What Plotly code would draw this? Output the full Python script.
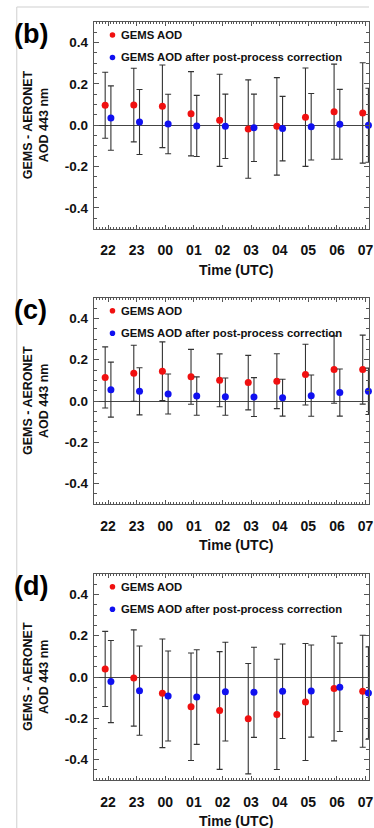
import plotly.graph_objects as go

# ---------------- data ----------------
hours = ["22", "23", "00", "01", "02", "03", "04", "05", "06", "07"]
y_tick_vals = [-0.4, -0.2, 0.0, 0.2, 0.4]
y_tick_text = ["-0.4", "-0.2", "0.0", "0.2", "0.4"]
panel_labels = ["(b)", "(c)", "(d)"]
series_names = ["GEMS AOD", "GEMS AOD after post-process correction"]

b_gems = [0.097, 0.098, 0.092, 0.056, 0.024, -0.018, -0.005, 0.039, 0.066, 0.060]
b_gems_err = [0.160, 0.178, 0.200, 0.204, 0.223, 0.238, 0.236, 0.238, 0.230, 0.243]
b_corr = [0.035, 0.016, 0.006, -0.003, -0.005, -0.012, -0.016, -0.007, 0.005, 0.000]
b_corr_err = [0.156, 0.157, 0.144, 0.148, 0.156, 0.163, 0.156, 0.161, 0.169, 0.179]

c_gems = [0.114, 0.134, 0.144, 0.117, 0.100, 0.089, 0.096, 0.128, 0.152, 0.152]
c_gems_err = [0.148, 0.136, 0.142, 0.133, 0.128, 0.132, 0.133, 0.147, 0.163, 0.167]
c_corr = [0.055, 0.047, 0.034, 0.024, 0.021, 0.019, 0.016, 0.026, 0.041, 0.047]
c_corr_err = [0.133, 0.114, 0.097, 0.093, 0.090, 0.094, 0.089, 0.100, 0.114, 0.112]

d_gems = [0.039, -0.005, -0.079, -0.144, -0.162, -0.202, -0.181, -0.121, -0.056, -0.069]
d_gems_err = [0.182, 0.233, 0.263, 0.260, 0.285, 0.267, 0.267, 0.283, 0.253, 0.271]
d_corr = [-0.022, -0.066, -0.092, -0.097, -0.071, -0.074, -0.069, -0.068, -0.050, -0.078]
d_corr_err = [0.199, 0.216, 0.218, 0.229, 0.239, 0.218, 0.229, 0.223, 0.214, 0.223]

panels = [
    (b_gems, b_gems_err, b_corr, b_corr_err),
    (c_gems, c_gems_err, c_corr, c_corr_err),
    (d_gems, d_gems_err, d_corr, d_corr_err),
]

# ---------------- style / layout ----------------
W, H = 374, 828
RED = "#f01010"
BLUE = "#1010f0"
ERRC = "#333333"
AXC = "#555555"
FONT = "Liberation Sans"

def PX(x):
    return x / W

def PY(y):
    return 1 - y / H

tops = [22.0, 297.7, 573.7]
ph = 206.6
left = 95.0
offset = 0.1

fig = go.Figure()
shapes = []
annotations = []
idx = list(range(len(hours)))

for k, (g, ge, c, ce) in enumerate(panels):
    n = "" if k == 0 else str(k + 1)
    xa, ya = "x" + n, "y" + n
    fig.add_trace(go.Scatter(
        x=[i - offset for i in idx], y=g, mode="markers", xaxis=xa, yaxis=ya,
        marker=dict(color=RED, size=7),
        error_y=dict(type="data", array=ge, visible=True, color=ERRC, thickness=1.1, width=3),
        showlegend=False, cliponaxis=False))
    fig.add_trace(go.Scatter(
        x=[i + offset for i in idx], y=c, mode="markers", xaxis=xa, yaxis=ya,
        marker=dict(color=BLUE, size=7),
        error_y=dict(type="data", array=ce, visible=True, color=ERRC, thickness=1.1, width=3),
        showlegend=False, cliponaxis=False))

    top = tops[k]
    bot = top + ph
    fig.update_layout(**{
        "xaxis" + n: dict(
            domain=[PX(left), 1], range=[-0.5, 9.12], anchor=ya,
            tickmode="array", tickvals=idx, ticktext=hours,
            ticks="inside", ticklen=4, tickcolor=AXC, tickwidth=1,
            minor=dict(dtick=0.1, tick0=0, ticks="inside", ticklen=2, tickcolor=AXC),
            showline=True, linecolor=AXC, linewidth=1, mirror="allticks",
            showgrid=False, zeroline=False, ticklabeloverflow="allow",
            tickfont=dict(family=FONT, size=14, color="#111", weight="bold"),
            ticklabelstandoff=9),
        "yaxis" + n: dict(
            domain=[PY(bot), PY(top)], range=[-0.5, 0.5], anchor=xa,
            tickmode="array", tickvals=y_tick_vals, ticktext=y_tick_text,
            ticks="inside", ticklen=5, tickcolor=AXC, tickwidth=1,
            minor=dict(dtick=0.05, tick0=0, ticks="inside", ticklen=3, tickcolor=AXC),
            showline=True, linecolor=AXC, linewidth=1, mirror="allticks",
            showgrid=False, zeroline=True, zerolinecolor="#444444", zerolinewidth=1,
            tickfont=dict(family=FONT, size=13.5, color="#111", weight="bold"),
            ticklabelstandoff=2),
    })

    # panel label
    annotations.append(dict(
        x=PX(31), y=PY(top + 12), xref="paper", yref="paper",
        text="<b>" + panel_labels[k] + "</b>", showarrow=False,
        xanchor="center", yanchor="middle",
        font=dict(family=FONT, size=27, color="#000")))
    # y title
    annotations.append(dict(
        x=PX(36.5), y=PY(top + ph / 2), xref="paper", yref="paper",
        text="<b>GEMS - AERONET<br>AOD 443 nm</b>", showarrow=False, textangle=-90,
        xanchor="center", yanchor="middle",
        font=dict(family=FONT, size=12.5, color="#111")))
    # x title
    annotations.append(dict(
        x=PX(239), y=PY(bot + 41), xref="paper", yref="paper",
        text="<b>Time (UTC)</b>", showarrow=False,
        xanchor="center", yanchor="middle",
        font=dict(family=FONT, size=14, color="#111")))
    # legend
    for j, (col, name) in enumerate(zip([RED, BLUE], series_names)):
        cy = top + 13 + j * 22.5
        r = 2.8
        shapes.append(dict(type="circle", xref="paper", yref="paper",
                           x0=PX(114 - r), x1=PX(114 + r), y0=PY(cy + r), y1=PY(cy - r),
                           fillcolor=col, line=dict(width=0)))
        annotations.append(dict(
            x=PX(121), y=PY(cy), xref="paper", yref="paper",
            text="<b>" + name + "</b>", showarrow=False,
            xanchor="left", yanchor="middle",
            font=dict(family=FONT, size=11.3, color="#111")))

# outer frame (screenshot border)
shapes.append(dict(type="line", xref="paper", yref="paper",
                   x0=PX(17), x1=PX(17), y0=PY(7), y1=0, line=dict(color="#cfcfcf", width=1)))
shapes.append(dict(type="line", xref="paper", yref="paper",
                   x0=PX(17), x1=1, y0=PY(7), y1=PY(7), line=dict(color="#cfcfcf", width=1)))

fig.update_layout(
    width=W, height=H, margin=dict(l=0, r=0, t=0, b=0),
    paper_bgcolor="white", plot_bgcolor="white",
    shapes=shapes, annotations=annotations, showlegend=False,
)

fig.write_html(
    "out.html",
    config={"displayModeBar": False},
    post_script="document.body.style.margin='0';document.body.style.overflow='hidden';",
)
